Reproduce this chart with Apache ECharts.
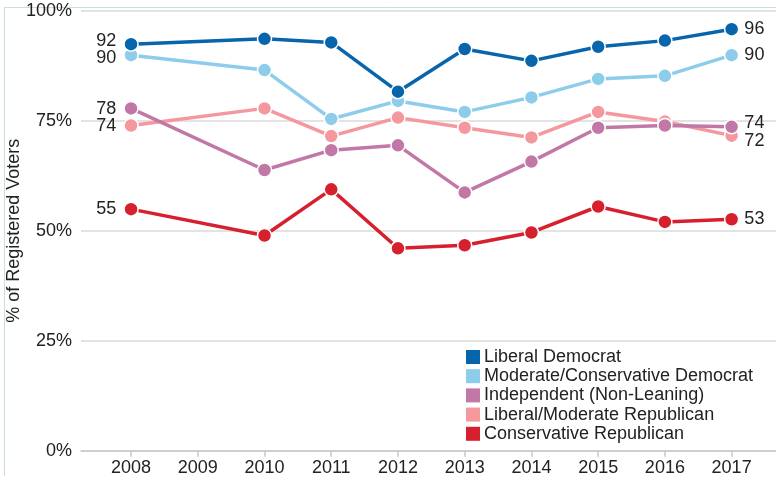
<!DOCTYPE html>
<html>
<head>
<meta charset="utf-8">
<script src="https://cdn.jsdelivr.net/npm/echarts@6/dist/echarts.min.js"></script>
<style>
html,body{margin:0;padding:0;background:#fff;}
#chart{width:776px;height:481px;}
</style>
</head>
<body>
<div id="chart"></div>
<script>
const years = [2008, 2010, 2011, 2012, 2013, 2014, 2015, 2016, 2017];
const axisYears = [2008, 2009, 2010, 2011, 2012, 2013, 2014, 2015, 2016, 2017];
const yTicks = [0, 25, 50, 75, 100];

const seriesNames = [
  'Liberal Democrat',
  'Moderate/Conservative Democrat',
  'Independent (Non-Leaning)',
  'Liberal/Moderate Republican',
  'Conservative Republican'
];
const liberalDemocrat = [92.4, 93.6, 92.8, 81.6, 91.3, 88.6, 91.8, 93.2, 95.8];
const moderateDemocrat = [89.9, 86.5, 75.4, 79.5, 77.0, 80.3, 84.5, 85.2, 89.9];
const independent = [77.8, 63.8, 68.3, 69.4, 58.7, 65.7, 73.4, 73.9, 73.6];
const moderateRepublican = [73.9, 77.8, 71.5, 75.7, 73.4, 71.2, 77.0, 74.8, 71.6];
const conservativeRepublican = [54.9, 48.9, 59.4, 46.0, 46.7, 49.6, 55.5, 52.0, 52.6];

const values = [liberalDemocrat, moderateDemocrat, independent, moderateRepublican, conservativeRepublican];
const colors = ['#0765ac', '#8dcdeb', '#c278a6', '#f4989d', '#d6202e'];
// label vertical nudges [first, last] (style only)
const labelShift = [[-3, 0], [3, 0], [1, -4], [0, 5], [0, 0]];

const FONT = '"Liberation Sans", Arial, sans-serif';
const TXT = '#222';
const FS = 18;

function buildSeries(i) {
  const vals = values[i];
  const data = vals.map((v, k) => {
    const item = { value: [years[k], v] };
    if (k === 0 || k === vals.length - 1) {
      const first = k === 0;
      item.label = {
        show: true,
        position: first ? 'left' : 'right',
        distance: first ? 7 : 5,
        offset: [0, labelShift[i][first ? 0 : 1]],
        formatter: p => String(Math.round(p.value[1])),
        color: TXT,
        fontSize: FS,
        fontFamily: FONT
      };
    }
    return item;
  });
  return {
    name: seriesNames[i],
    type: 'line',
    data: data,
    symbol: 'circle',
    symbolSize: 14,
    showAllSymbol: true,
    color: colors[i],
    lineStyle: { width: 3.5, color: colors[i] },
    itemStyle: { color: colors[i], borderColor: '#fff', borderWidth: 1.5 },
    emphasis: { disabled: true },
    animation: false
  };
}

// draw order: republicans first, so later ones sit on top
const drawOrder = [4, 3, 2, 1, 0];

const chart = echarts.init(document.getElementById('chart'), null, { renderer: 'canvas' });
chart.setOption({
  animation: false,
  backgroundColor: '#fff',
  textStyle: { fontFamily: FONT },
  graphic: [{
    type: 'polyline',
    silent: true,
    shape: { points: [[4.5, 476], [4.5, 7.5], [776, 7.5]] },
    style: { stroke: '#c9dde5', lineWidth: 1, fill: null }
  }],
  grid: { left: 81, right: 0, top: 10.7, bottom: 30.3, containLabel: false, outerBoundsMode: 'none' },
  legend: {
    data: seriesNames,
    orient: 'vertical',
    left: 466,
    top: 348,
    padding: 0,
    icon: 'rect',
    itemWidth: 14,
    itemHeight: 14,
    itemGap: 1.2,
    itemStyle: { borderWidth: 0 },
    textStyle: { color: TXT, fontSize: FS, fontFamily: FONT, padding: [0, 0, 0, -1] },
    selectedMode: false
  },
  xAxis: {
    type: 'value',
    min: 2007.25,
    max: 2017.665,
    splitLine: { show: false },
    axisLine: { show: true, lineStyle: { color: '#c8c8c8', width: 1.5 } },
    axisTick: { show: true, length: 6, lineStyle: { color: '#c8c8c8', width: 1.5 }, customValues: axisYears },
    axisLabel: { customValues: axisYears, color: TXT, fontSize: FS, fontFamily: FONT, margin: 8, formatter: v => String(v) }
  },
  yAxis: {
    type: 'value',
    min: 0,
    max: 100,
    interval: 25,
    name: '% of Registered Voters',
    nameLocation: 'middle',
    nameGap: 58,
    nameMoveOverlap: false,
    nameTextStyle: { color: TXT, fontSize: FS, fontFamily: FONT },
    axisLine: { show: false },
    axisTick: { show: false },
    axisLabel: { color: TXT, fontSize: FS, fontFamily: FONT, margin: 9, formatter: v => yTicks.includes(v) ? v + '%' : '' },
    splitLine: { show: true, lineStyle: { color: '#e3e3e3', width: 2 } }
  },
  series: drawOrder.map(buildSeries)
});
</script>
</body>
</html>
